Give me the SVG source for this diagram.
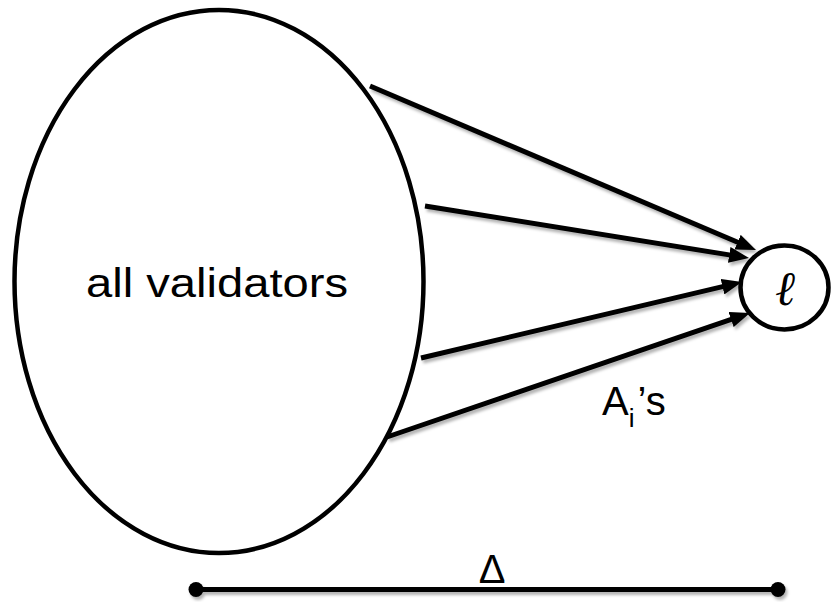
<svg xmlns="http://www.w3.org/2000/svg" width="831" height="602" viewBox="0 0 831 602">
  <style>
    .shape { fill: #fff; stroke: #000; stroke-width: 4.5; }
    .conn { stroke: #000; stroke-width: 5; fill: none; }
    .lbl { font-family: "Liberation Sans", Arial, sans-serif; fill: #000; }
  </style>
  <defs>
    <filter id="sh" x="-10%" y="-50%" width="120%" height="200%">
      <feDropShadow dx="2" dy="3" stdDeviation="1.6" flood-color="#000" flood-opacity="0.3"/>
    </filter>
    <marker id="ah" markerUnits="userSpaceOnUse" viewBox="0 0 20 16" markerWidth="20" markerHeight="16" refX="11" refY="8" orient="auto">
      <path d="M0,0 L20,8 L0,16 z" fill="#000"/>
    </marker>
  </defs>
  <rect width="831" height="602" fill="#fff"/>
  <g id="validators">
    <ellipse class="shape" cx="219" cy="281.5" rx="204.5" ry="271.5"/>
    <text class="lbl" x="86" y="297" font-size="40" textLength="262" lengthAdjust="spacingAndGlyphs">all validators</text>
  </g>
  <g id="ell">
    <ellipse class="shape" cx="784.5" cy="287.5" rx="44" ry="42" stroke-width="4"/>
    <text x="785" y="305" font-family="'DejaVu Serif', serif" font-style="italic" font-size="48" text-anchor="middle">ℓ</text>
  </g>
  <g id="connectors" filter="url(#sh)">
    <line class="conn" x1="370" y1="86" x2="747.7" y2="246.5" marker-end="url(#ah)"/>
    <line class="conn" x1="425" y1="206" x2="740.1" y2="256.6" marker-end="url(#ah)"/>
    <line class="conn" x1="421" y1="358" x2="733.2" y2="284.1" marker-end="url(#ah)"/>
    <line class="conn" x1="387" y1="437" x2="741.5" y2="315.9" marker-end="url(#ah)"/>
  </g>
  <g id="label-ais">
    <text class="lbl" x="602" y="415" font-size="40">A<tspan font-size="26" dy="12">i</tspan><tspan dy="-12" dx="3">’s</tspan></text>
  </g>
  <g id="delta" filter="url(#sh)">
    <line class="conn" x1="196" y1="589.5" x2="778" y2="589.5"/>
    <circle cx="196" cy="589.5" r="7.5" fill="#000"/>
    <circle cx="778" cy="589.5" r="7.5" fill="#000"/>
  </g>
  <text class="lbl" x="492" y="583" font-size="40" text-anchor="middle">Δ</text>
</svg>
